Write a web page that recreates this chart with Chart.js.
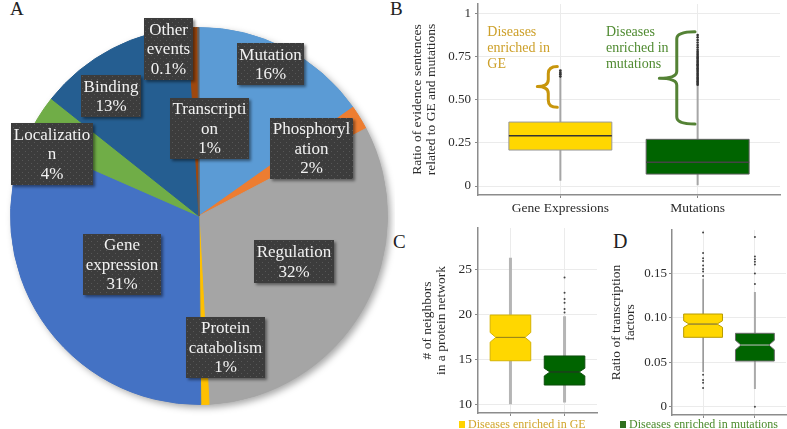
<!DOCTYPE html>
<html>
<head>
<meta charset="utf-8">
<script src="https://cdn.jsdelivr.net/npm/chart.js@4.4.1/dist/chart.umd.min.js"></script>
<style>
  body { margin: 0; background: #fff; width: 787px; height: 429px; overflow: hidden; position: relative; }
  .panel { position: absolute; }
  .tag { position: absolute; font: 19px 'Liberation Serif', serif; line-height: 19px; color: #222; }
</style>
</head>
<body>
<div class="tag" style="left:10px;top:-1px">A</div>
<div class="tag" style="left:390px;top:-1px">B</div>
<div class="tag" style="left:393px;top:232px">C</div>
<div class="tag" style="left:613px;top:232px;font-size:20px">D</div>

<div class="panel" style="left:0;top:0;width:395px;height:429px"><canvas id="chartPie"></canvas></div>
<div class="panel" style="left:395px;top:0;width:392px;height:220px"><canvas id="chartRatio"></canvas></div>
<div class="panel" style="left:395px;top:220px;width:215px;height:209px"><canvas id="chartNeighbors"></canvas></div>
<div class="panel" style="left:610px;top:220px;width:177px;height:209px"><canvas id="chartTF"></canvas></div>

<script>
'use strict';

// ---- A: event types ----
var pieCats = ['Mutation', 'Phosphorylation', 'Regulation', 'Protein catabolism', 'Gene expression',
  'Localization', 'Binding', 'Transcription', 'Other events'];
var pieValues = [15.2, 2.1, 31.8, 0.7, 31.7, 4.1, 13.4, 0.8, 0.1];
var pieShown = ['16%', '2%', '32%', '1%', '31%', '4%', '13%', '1%', '0.1%'];
var pieWrap = [['Mutation'], ['Phosphoryl', 'ation'], ['Regulation'], ['Protein', 'catabolism'],
  ['Gene', 'expression'], ['Localizatio', 'n'], ['Binding'], ['Transcripti', 'on'], ['Other', 'events']];

// ---- B: ratio of evidence sentences ----  [lower whisker, q1, median, q3, upper whisker]
var boxCats = ['Gene Expressions', 'Mutations'];
var ratioGE = [0.03, 0.208, 0.291, 0.370, 0.625];
var ratioMut = [0.004, 0.069, 0.137, 0.270, 0.584];
var ratioGEOut = [0.633, 0.645, 0.655, 0.667];
var ratioMutOut = [0.874, 0.860, 0.845, 0.830, 0.816, 0.802, 0.788, 0.778, 0.769, 0.761, 0.752, 0.744,
  0.737, 0.729, 0.721, 0.713, 0.705, 0.698, 0.690, 0.682, 0.674, 0.667, 0.659, 0.651, 0.643, 0.636,
  0.628, 0.621, 0.614, 0.606, 0.599, 0.592, 0.586];
var ratioTicks = [0, 0.25, 0.5, 0.75, 1];
var ratioTickLabels = ['0', '0.25', '0.50', '0.75', '1'];

// ---- C: neighbors in a protein network ----
var nbGE = [10.0, 14.84, 17.44, 19.92, 26.3];
var nbGENotch = [16.91, 17.98];
var nbMut = [10.2, 12.14, 13.59, 15.37, 19.8];
var nbMutNotch = [13.15, 14.01];
var nbMutOut = [24.1, 22.4, 21.7, 21.3, 20.6, 20.2];
var nbTicks = [10, 15, 20, 25];
var nbTickLabels = ['10', '15', '20', '25'];

// ---- D: ratio of transcription factors ----
var tfGE = [0.039, 0.0781, 0.0930, 0.1043, 0.144];
var tfGENotch = [0.0893, 0.0967];
var tfGEOut = [0.196, 0.173, 0.167, 0.164, 0.159, 0.155, 0.152, 0.147, 0.036, 0.030, 0.027, 0.021];
var tfMut = [0.020, 0.0514, 0.0694, 0.0826, 0.129];
var tfMutNotch = [0.0641, 0.0747];
var tfMutOut = [0.191, 0.169, 0.166, 0.163, 0.160, 0.150, 0.138, 0.0];
var tfTicks = [0, 0.05, 0.10, 0.15];
var tfTickLabels = ['0', '0.05', '0.10', '0.15'];

var legendLabels = ['Diseases enriched in GE', 'Diseases enriched in mutations'];

// styles
var pieColors = ['#5B9BD5', '#ED7D31', '#A5A5A5', '#FFC000', '#4472C4', '#70AD47', '#255E91', '#9E480E', '#636363'];
// label boxes (canvas px) in the same order as pieCats
var pieBoxes = [
  { x: 237, y: 43, w: 67, h: 42 }, { x: 270, y: 118, w: 83, h: 61 }, { x: 254, y: 240, w: 80, h: 43 },
  { x: 186, y: 317, w: 79, h: 61 }, { x: 83, y: 234, w: 78, h: 61 }, { x: 11, y: 123, w: 82, h: 62 },
  { x: 81, y: 75, w: 60, h: 42 }, { x: 170, y: 98, w: 79, h: 61 }, { x: 144, y: 18, w: 49, h: 62 }
];
var SERIF = "'Liberation Serif', 'Times New Roman', serif";
var GOLD = '#FFD700', GREEN = '#006400';

function dotPattern(ctx) {
  var c = document.createElement('canvas');
  c.width = 6; c.height = 6;
  var g = c.getContext('2d');
  g.fillStyle = '#3c3c3c'; g.fillRect(0, 0, 6, 6);
  g.fillStyle = '#575757'; g.fillRect(1, 1, 1, 1); g.fillRect(4, 4, 1, 1);
  return ctx.createPattern(c, 'repeat');
}

var pieShadow = {
  id: 'pieShadow',
  beforeDatasetsDraw: function (chart) {
    var arc = chart.getDatasetMeta(0).data[0];
    if (!arc) return;
    var ctx = chart.ctx;
    ctx.save();
    ctx.shadowColor = 'rgba(0,0,0,0.35)';
    ctx.shadowBlur = 7; ctx.shadowOffsetX = 3; ctx.shadowOffsetY = 3;
    ctx.beginPath();
    ctx.arc(arc.x, arc.y, arc.outerRadius, 0, Math.PI * 2);
    ctx.fillStyle = '#a5a5a5';
    ctx.fill();
    ctx.restore();
  }
};

var pieLabels = {
  id: 'pieLabels',
  afterDatasetsDraw: function (chart) {
    var ctx = chart.ctx;
    var pat = dotPattern(ctx);
    ctx.save();
    pieBoxes.forEach(function (b, i) {
      ctx.save();
      ctx.shadowColor = 'rgba(0,0,0,0.45)';
      ctx.shadowBlur = 3; ctx.shadowOffsetX = 2; ctx.shadowOffsetY = 2;
      ctx.fillStyle = pat;
      ctx.fillRect(b.x, b.y, b.w, b.h);
      ctx.restore();
      var lines = pieWrap[i].concat([pieShown[i]]);
      var lh = 19.5;
      var y0 = b.y + (b.h - lines.length * lh) / 2 + lh / 2 + 1;
      ctx.fillStyle = '#f2f2f2';
      ctx.font = '17px ' + SERIF;
      ctx.textAlign = 'center';
      ctx.textBaseline = 'middle';
      lines.forEach(function (t, k) { ctx.fillText(t, b.x + b.w / 2, y0 + k * lh); });
    });
    ctx.restore();
  }
};

// ---- box plot helpers ----
function makeBoxes(items) {
  return {
    id: 'boxes',
    beforeDatasetsDraw: function (chart) {
      var ctx = chart.ctx, xs = chart.scales.x, ys = chart.scales.y;
      ctx.save();
      items.forEach(function (b) {
        var s = b.stats;
        var cx = xs.getPixelForValue(b.pos);
        var hw = xs.getPixelForValue(b.pos + 0.375) - cx;
        var yLo = ys.getPixelForValue(s[0]), yQ1 = ys.getPixelForValue(s[1]);
        var yMed = ys.getPixelForValue(s[2]), yQ3 = ys.getPixelForValue(s[3]);
        var yHi = ys.getPixelForValue(s[4]);
        ctx.strokeStyle = b.whisker; ctx.lineWidth = b.whiskerWidth;
        ctx.beginPath();
        ctx.moveTo(cx, yQ3); ctx.lineTo(cx, yHi);
        ctx.moveTo(cx, yQ1); ctx.lineTo(cx, yLo);
        ctx.stroke();
        var nw = hw;
        ctx.beginPath();
        if (b.notch) {
          var nTop = ys.getPixelForValue(b.notch[1]), nBot = ys.getPixelForValue(b.notch[0]);
          nw = hw * 0.72;
          ctx.moveTo(cx - hw, yQ3); ctx.lineTo(cx + hw, yQ3); ctx.lineTo(cx + hw, nTop);
          ctx.lineTo(cx + nw, yMed); ctx.lineTo(cx + hw, nBot); ctx.lineTo(cx + hw, yQ1);
          ctx.lineTo(cx - hw, yQ1); ctx.lineTo(cx - hw, nBot); ctx.lineTo(cx - nw, yMed);
          ctx.lineTo(cx - hw, nTop); ctx.closePath();
        } else {
          ctx.rect(cx - hw, yQ3, hw * 2, yQ1 - yQ3);
        }
        ctx.fillStyle = b.fill; ctx.fill();
        ctx.strokeStyle = b.stroke; ctx.lineWidth = 1; ctx.stroke();
        ctx.strokeStyle = b.median; ctx.lineWidth = b.medianWidth || 1;
        ctx.beginPath(); ctx.moveTo(cx - nw, yMed); ctx.lineTo(cx + nw, yMed); ctx.stroke();
      });
      ctx.restore();
    }
  };
}

function outliers(vals, pos, color, r) {
  return {
    data: vals.map(function (v) { return { x: pos, y: v }; }),
    backgroundColor: color, borderWidth: 0, pointRadius: r, pointHoverRadius: r
  };
}

function zeroPad(s) { s.paddingTop = 0; s.paddingBottom = 0; s.paddingLeft = 0; s.paddingRight = 0; }

function catAxis(height, showLabels, fontSize) {
  return {
    type: 'linear', min: 0.4, max: 2.6, bounds: 'data',
    afterBuildTicks: function (s) { s.ticks = [{ value: 1 }, { value: 2 }]; },
    afterFit: function (s) { s.height = height; zeroPad(s); },
    grid: { color: '#ebebeb', tickColor: '#888', tickLength: 3 },
    border: { color: '#8c8c8c', width: 1.5 },
    ticks: {
      autoSkip: false, maxRotation: 0, padding: 2, color: '#2b2b2b', font: { size: fontSize },
      callback: function (v, i) { return showLabels ? boxCats[i] : ''; }
    }
  };
}

function valAxis(min, max, ticks, labels, width, title, titleTop, tickPad, fontSize) {
  return {
    min: min, max: max, bounds: 'data',
    afterBuildTicks: function (s) { s.ticks = ticks.map(function (v) { return { value: v }; }); },
    afterFit: function (s) { s.width = width; zeroPad(s); },
    grid: { color: '#ebebeb', tickColor: '#888', tickLength: 3 },
    border: { color: '#8c8c8c', width: 1.5 },
    ticks: {
      padding: tickPad, color: '#2b2b2b', font: { size: fontSize },
      callback: function (v, i) { return labels[i]; }
    },
    title: {
      display: true, text: title, color: '#2b2b2b',
      font: { size: 13.5, lineHeight: 1 }, padding: { top: titleTop, bottom: 0 }
    }
  };
}

var baseOpts = {
  animation: false, responsive: true, maintainAspectRatio: false,
  plugins: { legend: { display: false }, tooltip: { enabled: false } }
};

function drawBrace(ctx, xs, ys, br, color) {
  var xt = xs.getPixelForValue(br.tip), xsp = xs.getPixelForValue(br.spine), xe = xs.getPixelForValue(br.end);
  var yT = ys.getPixelForValue(br.top), yB = ys.getPixelForValue(br.bottom), yM = ys.getPixelForValue(br.mid);
  var r = Math.min(7, (yB - yT) / 5);
  ctx.strokeStyle = color; ctx.lineWidth = 3; ctx.lineCap = 'round'; ctx.lineJoin = 'round';
  ctx.beginPath();
  ctx.moveTo(xe, yT);
  ctx.quadraticCurveTo(xsp, yT, xsp, yT + r);
  ctx.lineTo(xsp, yM - r);
  ctx.quadraticCurveTo(xsp, yM, xt, yM);
  ctx.quadraticCurveTo(xsp, yM, xsp, yM + r);
  ctx.lineTo(xsp, yB - r);
  ctx.quadraticCurveTo(xsp, yB, xe, yB);
  ctx.stroke();
}

var notesB = {
  id: 'notesB',
  afterDatasetsDraw: function (chart) {
    var ctx = chart.ctx, xs = chart.scales.x, ys = chart.scales.y;
    ctx.save();
    drawBrace(ctx, xs, ys, { tip: 0.832, spine: 0.912, end: 0.978, top: 0.691, bottom: 0.456, mid: 0.575 }, '#C8960C');
    drawBrace(ctx, xs, ys, { tip: 1.721, spine: 1.848, end: 1.981, top: 0.893, bottom: 0.359, mid: 0.624 }, '#548235');
    ctx.font = '14px ' + SERIF;
    ctx.textBaseline = 'middle';
    ctx.textAlign = 'left';
    var ly = [0.888, 0.797, 0.705];
    ctx.fillStyle = '#CDA02A';
    ['Diseases', 'enriched in', 'GE'].forEach(function (t, k) {
      ctx.fillText(t, xs.getPixelForValue(0.468), ys.getPixelForValue(ly[k]));
    });
    ctx.fillStyle = '#4F8A30';
    ['Diseases', 'enriched in', 'mutations'].forEach(function (t, k) {
      ctx.fillText(t, xs.getPixelForValue(1.332), ys.getPixelForValue(ly[k]));
    });
    ctx.restore();
  }
};

function legendBelow(text, x, color, textColor) {
  return {
    id: 'legendBelow',
    afterDraw: function (chart) {
      var ctx = chart.ctx;
      ctx.save();
      ctx.fillStyle = color;
      ctx.fillRect(x, 201, 6, 7);
      ctx.font = '12px ' + SERIF;
      ctx.fillStyle = textColor;
      ctx.textBaseline = 'middle';
      ctx.fillText(text, x + 9, 204.5);
      ctx.restore();
    }
  };
}

function init() {
  Chart.defaults.font.family = SERIF;
  Chart.defaults.color = '#333';

  new Chart(document.getElementById('chartPie'), {
    type: 'pie',
    data: {
      labels: pieCats,
      datasets: [{ data: pieValues, backgroundColor: pieColors, borderColor: pieColors, borderWidth: 1 }]
    },
    options: {
      animation: false, responsive: true, maintainAspectRatio: false,
      layout: { padding: { left: 10, right: 7, top: 27, bottom: 24 } },
      plugins: { legend: { display: false }, tooltip: { enabled: false } }
    },
    plugins: [pieShadow, pieLabels]
  });

  new Chart(document.getElementById('chartRatio'), {
    type: 'scatter',
    data: { datasets: [outliers(ratioGEOut, 1, '#333', 1.4), outliers(ratioMutOut, 2, '#333', 1.3)] },
    options: Object.assign({}, baseOpts, {
      layout: { padding: { top: 4, right: 7, left: 0, bottom: 0 } },
      scales: {
        x: catAxis(25, true, 13.5),
        y: valAxis(-0.052, 1.053, ratioTicks, ratioTickLabels, 83,
          ['Ratio of evidence sentences', 'related to GE and mutations'], 16, 4, 13)
      }
    }),
    plugins: [makeBoxes([
      { pos: 1, stats: ratioGE, fill: GOLD, stroke: '#999', median: '#333', medianWidth: 1.5, whisker: '#a6a6a6', whiskerWidth: 2 },
      { pos: 2, stats: ratioMut, fill: GREEN, stroke: '#5f5f5f', median: '#444', medianWidth: 1.5, whisker: '#a6a6a6', whiskerWidth: 2 }
    ]), notesB]
  });

  new Chart(document.getElementById('chartNeighbors'), {
    type: 'scatter',
    data: { datasets: [outliers(nbMutOut, 2, '#444', 1)] },
    options: Object.assign({}, baseOpts, {
      layout: { padding: { top: 8, right: 13, left: 0, bottom: 13 } },
      scales: {
        x: catAxis(3, false, 12),
        y: valAxis(9.03, 29.6, nbTicks, nbTickLabels, 83, ['# of neighbors', 'in a protein network'], 26, 3, 13.5)
      }
    }),
    plugins: [makeBoxes([
      { pos: 1, stats: nbGE, notch: nbGENotch, fill: GOLD, stroke: '#d6b400', median: '#8f7d1c', whisker: '#b5b5b5', whiskerWidth: 3 },
      { pos: 2, stats: nbMut, notch: nbMutNotch, fill: GREEN, stroke: '#0b4d0b', median: '#2c2c2c', whisker: '#b5b5b5', whiskerWidth: 3 }
    ]), legendBelow(legendLabels[0], 64, '#FFD200', '#D1A52A')]
  });

  new Chart(document.getElementById('chartTF'), {
    type: 'scatter',
    data: { datasets: [outliers(tfGEOut, 1, '#444', 1), outliers(tfMutOut, 2, '#444', 1)] },
    options: Object.assign({}, baseOpts, {
      layout: { padding: { top: 10, right: 0, left: 0, bottom: 11 } },
      scales: {
        x: catAxis(3, false, 12),
        y: valAxis(-0.0093, 0.1988, tfTicks, tfTickLabels, 62, ['Ratio of transcription', 'factors'], 0, 2, 13)
      }
    }),
    plugins: [makeBoxes([
      { pos: 1, stats: tfGE, notch: tfGENotch, fill: GOLD, stroke: '#b89c00', median: '#66624a', whisker: '#777', whiskerWidth: 1.2 },
      { pos: 2, stats: tfMut, notch: tfMutNotch, fill: GREEN, stroke: '#6a6a6a', median: '#c4c4c4', whisker: '#aaa', whiskerWidth: 2 }
    ]), legendBelow(legendLabels[1], 10, '#2f6f1f', '#4A8A2A')]
  });
}

// canvas text needs the serif face loaded before the charts draw
document.fonts.load('17px "Liberation Serif"').then(init, init);
</script>
</body>
</html>
